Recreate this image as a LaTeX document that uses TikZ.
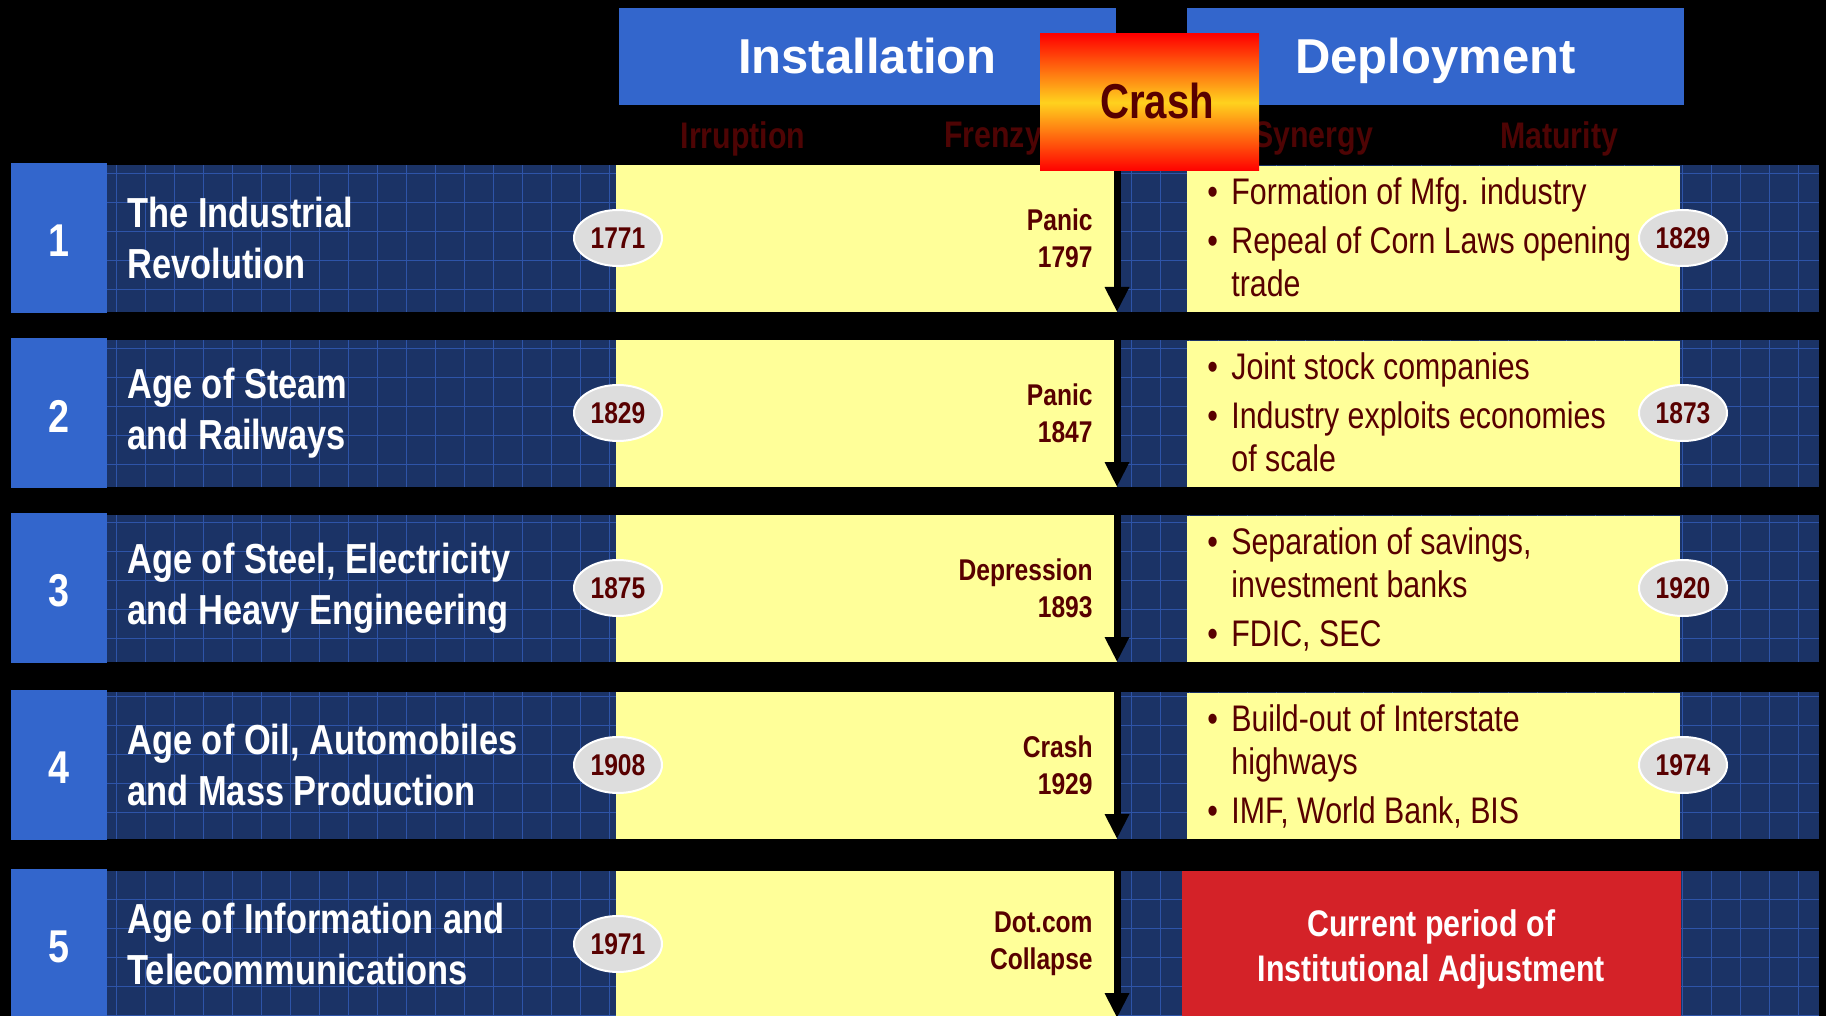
\documentclass[tikz,border=0pt]{standalone}
\usepackage{fontspec}
\setmainfont{Liberation Sans}
\newfontfamily\narrowfont{Liberation Sans}[FakeStretch=0.82]
\usetikzlibrary{arrows.meta}
\usetikzlibrary{shapes.geometric}

\definecolor{numblue}{RGB}{51,102,204}
\definecolor{navy}{RGB}{27,51,102}
\definecolor{gridblue}{RGB}{46,84,168}
\definecolor{paleyellow}{RGB}{255,255,153}
\definecolor{maroon}{RGB}{88,0,0}
\definecolor{phasered}{RGB}{78,4,4}
\definecolor{alertred}{RGB}{212,34,40}
\definecolor{flame}{RGB}{255,210,30}
\definecolor{ovalgray}{RGB}{221,221,221}

\begin{document}
\begin{tikzpicture}[
    x=0.5pt, y=-0.5pt,
    numbox/.style={rectangle, fill=numblue, minimum width=48pt, minimum height=75pt, inner sep=0pt,
      text=white, font=\narrowfont\bfseries\fontsize{23pt}{23pt}\selectfont},
    headbox/.style={rectangle, fill=numblue, minimum width=248.5pt, minimum height=48.5pt, inner sep=0pt,
      text height=17.5pt, text depth=0pt,
      text=white, font=\bfseries\fontsize{24.5pt}{24.5pt}\selectfont},
    phase/.style={inner sep=0pt, text=phasered, font=\narrowfont\bfseries\fontsize{18.5pt}{18.5pt}\selectfont},
    crashbox/.style={rectangle, top color=red, bottom color=red, middle color=flame,
      minimum width=109.5pt, minimum height=68.5pt, inner sep=0pt},
    crashword/.style={inner sep=0pt, text=maroon,
      font=\narrowfont\bfseries\fontsize{24.5pt}{24.5pt}\selectfont},
    era/.style={anchor=west, inner sep=0pt, align=left, text=white,
      font=\narrowfont\bfseries\fontsize{21pt}{25.5pt}\selectfont},
    year/.style={ellipse, fill=ovalgray, draw=white, line width=1pt, minimum width=44pt,
      minimum height=28pt, inner sep=0pt, text=maroon,
      font=\narrowfont\bfseries\fontsize{15pt}{15pt}\selectfont},
    crisis/.style={anchor=east, inner sep=0pt, align=right, text=maroon,
      font=\narrowfont\bfseries\fontsize{15pt}{18.5pt}\selectfont},
    gains/.style={anchor=west, inner sep=0pt, text=maroon,
      font=\narrowfont\fontsize{18.5pt}{21.5pt}\selectfont},
    alertbox/.style={rectangle, inner sep=0pt, align=center, text=white,
      font=\narrowfont\bfseries\fontsize{18.5pt}{22.5pt}\selectfont},
    gridline/.style={draw=gridblue, line width=0.5pt},
    drop/.style={line width=3.5pt, -{Triangle[width=11.5pt, length=12.5pt]}},
    ]

    \clip (0,0) rectangle (1826,1016);
    \fill[black] (0,0) rectangle (1826,1016);

    % headers
    \node[headbox] (install) at (867.5,56.5) {Installation};
    \node[headbox] (deploy) at (1435.5,56.5) {Deployment};
    \foreach \name/\x/\word in {irrupt/743/Irruption, frenzy/993/Frenzy,
        synergy/1313/Synergy, maturity/1559/Maturity}
        \node[phase] (\name) at (\x,139) {\word};

    % the five surges, installation side
    \foreach \row/\ytop/\era/\from/\crisis in {
        1/163/{The Industrial\\Revolution}/1771/{Panic\\1797},
        2/338/{Age of Steam\\and Railways}/1829/{Panic\\1847},
        3/513/{Age of Steel, Electricity\\and Heavy Engineering}/1875/{Depression\\1893},
        4/690/{Age of Oil, Automobiles\\and Mass Production}/1908/{Crash\\1929},
        5/869/{Age of Information and\\Telecommunications}/1971/{Dot.com\\Collapse}} {
        \fill[navy] (107,\ytop+2) rectangle (1819,\ytop+149);
        \draw[gridline, step=14.5pt] (107,\ytop+149) grid (1819,\ytop+2);
        \fill[paleyellow] (616,\ytop+2) rectangle (1117,\ytop+149);
        \node[numbox] (num\row) at (59,\ytop+75) {};
        \node[numbox, fill=none, minimum height=0pt] (digit\row) at (59,\ytop+78) {\row};
        \node[era] (era\row) at (127,\ytop+75) {\era};
        \node[crisis] (crisis\row) at (1093,\ytop+75) {\crisis};
        \node[year] (start\row) at (618,\ytop+75) {\from};
        \coordinate (rise\row) at (1117,\ytop);
        \coordinate (drop\row) at (1117,\ytop+149);
    }

    % deployment side
    \foreach \row/\ytop/\gainlist/\yend in {
        1/163/{\textbullet & Formation of Mfg. industry\\[3pt]
               \textbullet & Repeal of Corn Laws opening\\ & trade}/1829,
        2/338/{\textbullet & Joint stock companies\\[3pt]
               \textbullet & Industry exploits economies\\ & of scale}/1873,
        3/513/{\textbullet & Separation of savings,\\ & investment banks\\[3pt]
               \textbullet & FDIC, SEC}/1920,
        4/690/{\textbullet & Build-out of Interstate\\ & highways\\[3pt]
               \textbullet & IMF, World Bank, BIS}/1974} {
        \fill[paleyellow] (1187,\ytop+3) rectangle (1680,\ytop+149);
        \node[gains] (gains\row) at (1207,\ytop+79)
            {\begin{tabular}{@{}p{12pt}@{}l@{}}\gainlist\end{tabular}};
        \node[year] (end\row) at (1683,\ytop+75) {\yend};
    }
    \fill[alertred] (1181.5,871) rectangle (1681,1018);
    \node[alertbox] (adjust) at (1431.25,949) {Current period of\\Institutional Adjustment};

    % crash marker
    \node[crashbox] (crash) at (1149.5,102.5) {};
    \node[crashword] (crashlabel) at (1157,101) {Crash};
    \draw[drop] (drop1 |- crash.south) -- (drop1);
    \foreach \row in {2,...,5}
        \draw[drop] (rise\row) -- (drop\row);
\end{tikzpicture}
\end{document}
